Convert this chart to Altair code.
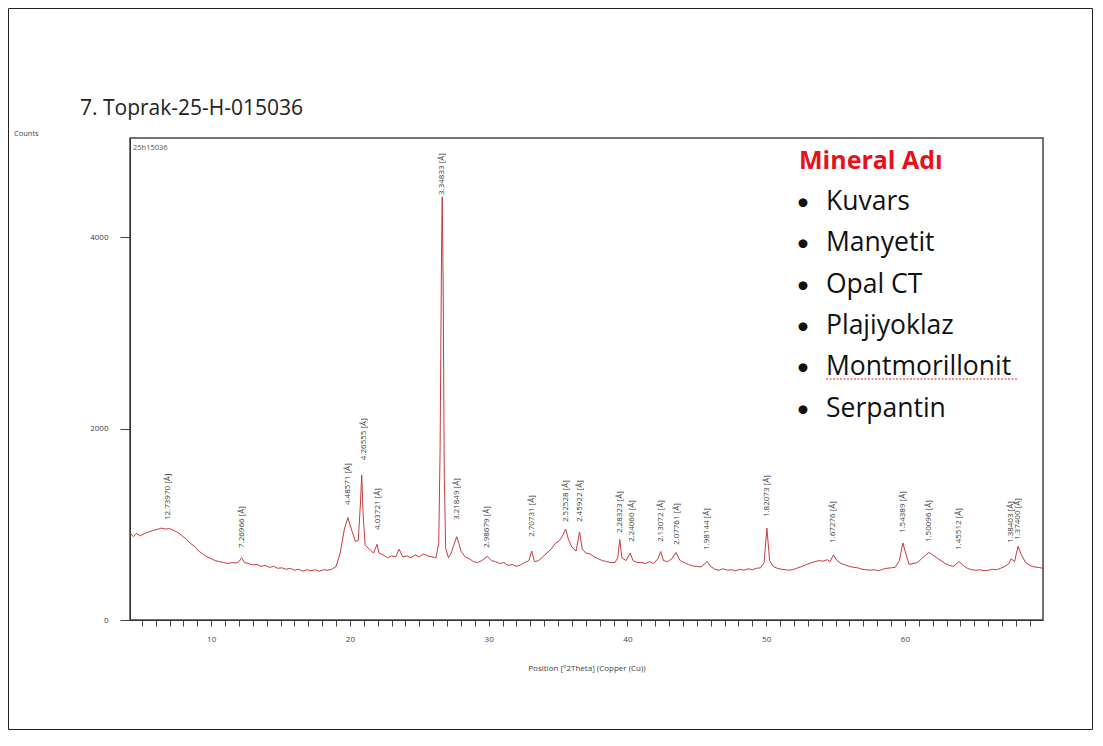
import altair as alt
import pandas as pd

# ---- diffraction pattern (2theta, counts) ----
two_theta = [
    4.15, 4.4, 4.6, 4.9, 5.2, 5.5, 5.8, 6.1, 6.4, 6.7, 7.0, 7.3, 7.6, 7.9, 8.2, 8.5,
    8.8, 9.1, 9.4, 9.7, 10.0, 10.3, 10.6, 10.9, 11.2, 11.5, 11.8, 12.0, 12.2, 12.4,
    12.7, 13.0, 13.3, 13.6, 13.9, 14.2, 14.5, 14.8, 15.1, 15.4, 15.7, 16.0, 16.3,
    16.6, 16.9, 17.2, 17.5, 17.8, 18.1, 18.4, 18.7, 19.0, 19.3, 19.6, 19.85, 20.1,
    20.4, 20.6, 20.75, 20.85, 20.95, 21.1, 21.4, 21.7, 21.95, 22.1, 22.4, 22.7, 23.0,
    23.3, 23.55, 23.8, 24.1, 24.4, 24.7, 25.0, 25.3, 25.6, 25.9, 26.2, 26.4, 26.5,
    26.6, 26.65, 26.72, 26.8, 26.9, 27.1, 27.3, 27.5, 27.7, 27.85, 28.0, 28.3, 28.6,
    28.9, 29.2, 29.5, 29.9, 30.2, 30.5, 30.8, 31.1, 31.4, 31.7, 32.0, 32.3, 32.6,
    32.9, 33.1, 33.3, 33.6, 33.9, 34.2, 34.5, 34.8, 35.1, 35.3, 35.55, 35.75, 36.0,
    36.3, 36.55, 36.75, 37.0, 37.3, 37.6, 37.9, 38.2, 38.5, 38.8, 39.1, 39.3, 39.45,
    39.6, 39.9, 40.2, 40.4, 40.7, 41.0, 41.3, 41.6, 41.9, 42.2, 42.4, 42.6, 42.9,
    43.2, 43.5, 43.8, 44.1, 44.4, 44.7, 45.0, 45.3, 45.75, 46.0, 46.3, 46.6, 46.9,
    47.2, 47.5, 47.8, 48.1, 48.4, 48.7, 49.0, 49.3, 49.6, 49.85, 50.05, 50.25, 50.5,
    50.8, 51.1, 51.4, 51.7, 52.0, 52.3, 52.6, 52.9, 53.2, 53.5, 53.8, 54.1, 54.4,
    54.6, 54.85, 55.1, 55.4, 55.7, 56.0, 56.3, 56.6, 56.9, 57.2, 57.5, 57.8, 58.1,
    58.4, 58.7, 59.0, 59.3, 59.6, 59.85, 60.05, 60.3, 60.6, 60.9, 61.2, 61.5, 61.75,
    62.0, 62.3, 62.6, 62.9, 63.2, 63.5, 63.9, 64.2, 64.5, 64.8, 65.1, 65.4, 65.7,
    66.0, 66.3, 66.6, 66.9, 67.2, 67.5, 67.65, 67.9, 68.15, 68.4, 68.7, 69.0, 69.3,
    69.6, 69.95,
]
counts = [
    905, 870, 905, 880, 905, 920, 935, 945, 960, 950, 955, 935, 915, 880, 845, 800,
    770, 720, 690, 660, 640, 620, 610, 600, 590, 600, 595, 610, 650, 600,
    590, 575, 580, 560, 570, 550, 560, 540, 545, 530, 540, 520, 530,
    510, 525, 515, 525, 510, 525, 520, 530, 560, 700, 950, 1070, 950,
    820, 830, 1200, 1515, 1100, 780, 740, 700, 790, 700, 680, 650, 670,
    660, 740, 660, 670, 650, 680, 660, 690, 670, 660, 650, 800, 1800,
    3800, 4420, 3500, 1500, 750, 650, 700, 790, 870, 800, 720, 660, 640,
    610, 600, 620, 665, 620, 610, 590, 600, 570, 580, 560, 575, 600,
    620, 720, 610, 620, 660, 700, 740, 800, 830, 870, 950, 840, 760,
    720, 920, 740, 700, 690, 660, 640, 620, 610, 600, 600, 650, 840,
    650, 620, 700, 620, 600, 600, 590, 610, 590, 640, 715, 620, 610,
    640, 705, 620, 600, 580, 565, 560, 555, 610, 560, 530, 520, 535,
    520, 525, 515, 530, 520, 535, 525, 540, 545, 600, 960, 620, 560,
    540, 530, 525, 520, 530, 545, 560, 580, 595, 610, 620, 615, 630,
    610, 680, 620, 590, 575, 560, 550, 545, 530, 525, 520, 525, 515,
    530, 540, 545, 550, 620, 805, 700, 580, 590, 600, 640, 680, 705,
    680, 650, 620, 590, 570, 560, 610, 570, 540, 525, 520, 525, 515,
    520, 530, 525, 540, 560, 590, 640, 610, 770, 680, 600, 570, 555,
    550, 540,
]

# ---- peak annotations ----
peak_pos = [6.9, 12.2, 19.85, 21.05, 22.0, 26.65, 27.7, 29.9, 33.1, 35.55, 36.55,
            39.45, 40.3, 42.4, 43.55, 45.75, 50.05, 54.85, 59.85, 61.7, 63.9,
            67.65, 68.15]
peak_label_y = [1044, 752, 1200, 1670, 940, 4440, 1044, 752, 867, 1023, 1023,
                908, 814, 814, 783, 731, 1075, 804, 908, 814, 731,
                804, 835]
peak_text = ["12.73970 [Å]", "7.26966 [Å]", "4.48571 [Å]", "4.26555 [Å]",
             "4.03721 [Å]", "3.34833 [Å]", "3.21849 [Å]", "2.98679 [Å]",
             "2.70731 [Å]", "2.52528 [Å]", "2.45922 [Å]", "2.28323 [Å]",
             "2.24060 [Å]", "2.13072 [Å]", "2.07761 [Å]", "1.98144 [Å]",
             "1.82073 [Å]", "1.67276 [Å]", "1.54389 [Å]", "1.50096 [Å]",
             "1.45512 [Å]", "1.38403 [Å]", "1.37400 [Å]"]

x_ticks = list(range(5, 70))
y_ticks = [0, 2000, 4000]

title_text = "7. Toprak-25-H-015036"
legend_title = "Mineral Adı"
minerals = ["Kuvars", "Manyetit", "Opal CT", "Plajiyoklaz", "Montmorillonit", "Serpantin"]

W, H = 913, 482
PAD = {"left": 122, "top": 130, "right": 50, "bottom": 110}
SMALL_FONT = "Open Sans"
BIG_FONT = "Open Sans"

pattern = pd.DataFrame({"two_theta": two_theta, "counts": counts})
peaks = pd.DataFrame({"pos": peak_pos, "ly": peak_label_y, "label": peak_text})

x_scale = alt.Scale(domain=[4.15, 69.95], nice=False, zero=False)
y_scale = alt.Scale(domain=[0, 5035], nice=False)

line = alt.Chart(pattern).mark_line(color="#c73a3c", strokeWidth=1, clip=True).encode(
    x=alt.X("two_theta:Q", scale=x_scale,
            axis=alt.Axis(values=x_ticks, tickCount=200, format="d",
                          labelExpr="datum.value % 10 == 0 ? datum.label : ''",
                          title="Position [°2Theta] (Copper (Cu))",
                          titleFont=SMALL_FONT, titleFontSize=8, titleFontWeight="normal",
                          titleColor="#444", titlePadding=21,
                          labelFont=SMALL_FONT, labelFontSize=8, labelColor="#444",
                          labelPadding=9, tickSize=6, tickColor="#444",
                          domainColor="#333", grid=False, labelFlush=False,
                          labelOverlap=False)),
    y=alt.Y("counts:Q", scale=y_scale,
            axis=alt.Axis(values=y_ticks, format="d", title=None,
                          labelFont=SMALL_FONT, labelFontSize=8, labelColor="#444",
                          labelPadding=12, tickSize=10, tickColor="#444",
                          domainColor="#333", grid=False)),
)

labels = alt.Chart(peaks).mark_text(
    angle=270, align="left", baseline="middle", fontSize=8,
    font=SMALL_FONT, color="#3a3a3a",
).encode(x=alt.X("pos:Q", scale=x_scale), y=alt.Y("ly:Q", scale=y_scale), text="label:N")


def txt(s, x, y, **kw):
    return alt.Chart(pd.DataFrame({"t": [s]})).mark_text(**kw).encode(
        x=alt.value(x), y=alt.value(y), text="t:N")


layers = [line, labels]
layers.append(txt(title_text, -50, -23, align="left", baseline="alphabetic",
                  font="Open Sans", fontSize=21, color="#222"))
layers.append(txt("Counts", -116, -2, align="left", baseline="alphabetic",
                  font=SMALL_FONT, fontSize=7.5, color="#444"))
layers.append(txt("25h15036", 3, 10, align="left", baseline="middle",
                  font=SMALL_FONT, fontSize=7.5, color="#555"))
layers.append(txt(legend_title, 669, 31, align="left", baseline="alphabetic",
                  font=BIG_FONT, fontSize=25, fontWeight="bold", color="#e8101a"))
for i, m in enumerate(minerals):
    yb = 72 + i * 41.3
    layers.append(txt("•", 673, yb, align="center", baseline="alphabetic",
                      font="Lato", fontSize=24, color="#111"))
    layers.append(txt(m, 696, yb, align="left", baseline="alphabetic",
                      font=BIG_FONT, fontSize=26.5, color="#111"))

# spell-check squiggle under "Montmorillonit"
squig = alt.Chart(pd.DataFrame({"a": [0]})).mark_rule(
    color="#e02020", strokeWidth=1, strokeDash=[2, 1.5]).encode(
    x=alt.value(696), x2=alt.value(887), y=alt.value(241))
layers.append(squig)

# outer slide border
border = alt.Chart(pd.DataFrame({"a": [0]})).mark_rect(
    fill=None, fillOpacity=0, stroke="#222", strokeWidth=1).encode(
    x=alt.value(-121.5), x2=alt.value(W + PAD["right"] - 0.5),
    y=alt.value(-129.5), y2=alt.value(H + PAD["bottom"] - 0.5))
layers.append(border)

chart = alt.layer(*layers).properties(
    width=W, height=H, padding=PAD,
    autosize=alt.AutoSizeParams(type="none"),
    background="white",
).configure_view(stroke="#444", strokeWidth=1.5)

chart.save("out.html", embed_options={"renderer": "svg", "actions": False})
